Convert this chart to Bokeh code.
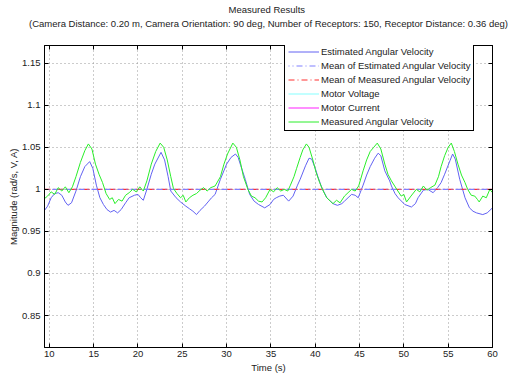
from bokeh.plotting import figure
from bokeh.models import Range1d, LinearAxis, Legend, LegendItem, FixedTicker, Title
from bokeh.embed import file_html
from bokeh.resources import INLINE

# Measured angular velocity (green)
meas_t = [9.45, 9.8, 10.2, 10.6, 11.0, 11.4, 11.8, 12.2, 12.6, 13.0, 13.5, 14.0, 14.4, 14.8, 15.2, 15.6,
          16.0, 16.4, 16.8, 17.1, 17.4, 17.8, 18.2, 18.6, 19.0, 19.4, 19.8, 20.2, 20.6, 21.0, 21.5, 22.0,
          22.5, 22.9, 23.3, 23.7, 24.0, 24.4, 24.8, 25.1, 25.4, 25.8, 26.2, 26.6, 27.0, 27.4, 27.8, 28.2,
          28.7, 29.3, 29.7, 30.1, 30.7, 31.1, 31.5, 31.9, 32.4, 32.8, 33.2, 33.6, 34.0, 34.4, 34.9, 35.3,
          35.7, 36.1, 36.5, 36.9, 37.2, 37.6, 37.9, 38.3, 38.6, 39.0, 39.3, 39.7, 40.1, 40.5, 40.9, 41.3,
          41.7, 42.0, 42.4, 42.8, 43.3, 43.7, 44.1, 44.5, 44.9, 45.4, 45.8, 46.2, 46.6, 47.0, 47.4, 47.85,
          48.2, 48.6, 49.2, 49.7, 50.0, 50.3, 50.8, 51.4, 51.8, 52.2, 52.6, 53.0, 53.5, 53.9, 54.2, 54.6,
          55.0, 55.35, 55.7, 56.1, 56.5, 56.9, 57.2, 57.6, 58.0, 58.3, 58.5, 58.9, 59.3, 59.7, 60.0]
meas_v = [0.989, 0.992, 0.997, 0.994, 1.002, 0.998, 1.003, 0.996, 1.003, 1.015, 1.032, 1.046, 1.054, 1.048, 1.030, 1.018,
          1.008, 0.995, 0.988, 0.990, 0.983, 0.988, 0.986, 0.993, 0.996, 1.000, 0.997, 1.003, 0.998, 1.010, 1.030, 1.045,
          1.055, 1.050, 1.035, 1.015, 1.001, 0.995, 0.990, 0.993, 0.985, 0.990, 0.993, 0.995, 0.999, 1.002, 0.998, 1.002,
          1.004, 1.015, 1.030, 1.042, 1.055, 1.050, 1.035, 1.015, 1.000, 0.992, 0.990, 0.986, 0.985, 0.990, 1.000, 0.997,
          1.002, 0.998, 1.000, 0.998, 1.005, 1.015, 1.025, 1.038, 1.047, 1.054, 1.050, 1.036, 1.020, 1.008, 0.998, 0.990,
          0.986, 0.983, 0.987, 0.984, 0.992, 0.996, 1.000, 0.998, 1.004, 1.022, 1.035, 1.045, 1.050, 1.055, 1.048, 1.030,
          1.018, 1.010, 1.000, 0.992, 0.994, 0.985, 0.992, 1.000, 0.997, 1.004, 0.999, 1.002, 1.005, 1.015, 1.027, 1.040,
          1.050, 1.055, 1.045, 1.030, 1.017, 1.008, 1.000, 0.993, 0.992, 0.988, 0.985, 0.992, 0.990, 1.000, 0.996]

# Estimated angular velocity (blue)
est_t = [9.45, 9.8, 10.2, 10.6, 11.0, 11.4, 11.8, 12.1, 12.5, 13.0, 13.5, 14.0, 14.55, 14.9, 15.3, 15.7,
         16.1, 16.5, 16.9, 17.3, 17.7, 18.1, 18.6, 19.0, 19.6, 20.0, 20.3, 20.6, 21.0, 21.5, 21.9, 22.6,
         23.0, 23.4, 23.7, 24.3, 24.8, 25.4, 25.8, 26.2, 26.6, 27.0, 27.5, 27.9, 28.3, 28.7, 29.3, 30.0,
         30.5, 31.0, 31.3, 31.6, 32.1, 32.6, 33.1, 33.6, 34.3, 34.9, 35.3, 35.6, 36.0, 36.4, 37.0, 37.5,
         38.0, 38.3, 38.9, 39.3, 39.6, 40.0, 40.3, 40.7, 41.3, 42.0, 42.5, 43.0, 43.3, 43.7, 44.1, 44.5,
         44.85, 45.4, 45.8, 46.2, 46.7, 47.1, 47.4, 47.85, 48.4, 48.6, 49.0, 49.35, 50.1, 50.85, 51.3, 51.6,
         52.2, 52.7, 53.3, 53.8, 54.2, 54.6, 55.2, 55.5, 55.8, 56.3, 56.9, 57.4, 57.8, 58.2, 58.9, 59.4, 60.0]
est_v = [0.975, 0.980, 0.990, 0.995, 0.996, 0.993, 0.985, 0.981, 0.984, 0.998, 1.015, 1.027, 1.033, 1.025, 1.005, 0.990,
         0.982, 0.976, 0.973, 0.975, 0.972, 0.976, 0.984, 0.990, 0.993, 0.994, 0.990, 0.987, 1.000, 1.018, 1.030, 1.044,
         1.035, 1.015, 0.998, 0.990, 0.985, 0.980, 0.977, 0.974, 0.970, 0.975, 0.980, 0.985, 0.990, 0.994, 1.012, 1.030,
         1.038, 1.042, 1.038, 1.028, 1.012, 0.994, 0.986, 0.982, 0.978, 0.982, 0.988, 0.990, 0.992, 0.993, 0.986, 0.992,
         1.005, 1.012, 1.028, 1.037, 1.036, 1.025, 1.015, 1.003, 0.990, 0.983, 0.981, 0.983, 0.986, 0.990, 0.994, 0.993,
         0.990, 1.005, 1.017, 1.027, 1.037, 1.043, 1.040, 1.022, 1.010, 1.004, 0.995, 0.990, 0.982, 0.979, 0.983, 0.990,
         0.999, 1.000, 0.996, 1.002, 1.008, 1.018, 1.034, 1.042, 1.036, 1.012, 0.990, 0.978, 0.974, 0.972, 0.970, 0.972, 0.978]

mean_t = [9.45, 60.0]
mean_est = [1.0, 1.0]
mean_meas = [1.0, 1.0]
# Motor voltage / current: no values inside the shown window (legend entries only)
motor_t = [float("nan")]
motor_voltage = [float("nan")]
motor_current = [float("nan")]

x_ticks = [10, 15, 20, 25, 30, 35, 40, 45, 50, 55, 60]
y_ticks = [0.85, 0.9, 0.95, 1.0, 1.05, 1.1, 1.15]
y_labels = {0.85: "0.85", 0.9: "0.9", 0.95: "0.95", 1.0: "1", 1.05: "1.05", 1.1: "1.1", 1.15: "1.15"}

title_main = "Measured Results"
title_sub = "(Camera Distance: 0.20 m, Camera Orientation: 90 deg, Number of Receptors: 150, Receptor Distance: 0.36 deg)"

FONT = "Liberation Sans"
FS = "9.5px"
TXT = "#222222"

p = figure(width=508, height=376, output_backend="svg", toolbar_location=None,
           x_range=Range1d(9.45, 60.0), y_range=Range1d(0.812, 1.171),
           min_border_left=44, min_border_right=16, min_border_top=45, min_border_bottom=29)
p.title = None

p.outline_line_color = "black"
p.outline_line_width = 1
p.outline_line_alpha = 1.0
p.background_fill_color = "white"
p.border_fill_color = "white"

for ax in p.xaxis:
    ax.ticker = FixedTicker(ticks=x_ticks)
    ax.axis_label = "Time (s)"
    ax.major_label_standoff = 3
    ax.axis_label_standoff = 2
for ax in p.yaxis:
    ax.ticker = FixedTicker(ticks=y_ticks)
    ax.major_label_overrides = y_labels
    ax.axis_label = "Magnitude (rad/s, V, A)"
    ax.major_label_standoff = 4
    ax.axis_label_standoff = 0

for ax in p.xaxis + p.yaxis:
    ax.major_tick_in = 4
    ax.major_tick_out = 0
    ax.minor_tick_in = 0
    ax.minor_tick_out = 0
    ax.axis_line_color = "black"
    ax.major_tick_line_color = "black"
    ax.major_label_text_font = FONT
    ax.major_label_text_font_size = FS
    ax.major_label_text_color = TXT
    ax.axis_label_text_font = FONT
    ax.axis_label_text_font_size = FS
    ax.axis_label_text_font_style = "normal"
    ax.axis_label_text_color = TXT

# top axis: inward ticks only; its label carries the second title line
top_ax = LinearAxis(ticker=FixedTicker(ticks=x_ticks), major_label_text_font_size="0px",
                    major_tick_in=4, major_tick_out=0, minor_tick_in=0, minor_tick_out=0,
                    major_label_standoff=0, major_tick_line_color="black",
                    axis_label=title_sub, axis_label_standoff=17,
                    axis_label_text_font=FONT, axis_label_text_font_size=FS,
                    axis_label_text_font_style="normal", axis_label_text_color=TXT)
right_ax = LinearAxis(ticker=FixedTicker(ticks=y_ticks), major_label_text_font_size="0px",
                      major_tick_in=4, major_tick_out=0, minor_tick_in=0, minor_tick_out=0,
                      major_label_standoff=0, major_tick_line_color="black")
p.add_layout(top_ax, "above")
p.add_layout(right_ax, "right")
p.add_layout(Title(text=title_main, align="left", offset=184, text_font=FONT, text_font_size=FS,
                   text_font_style="normal", text_color=TXT, standoff=0, text_line_height=0.9), "above")

p.xgrid[0].ticker = FixedTicker(ticks=x_ticks)
p.ygrid[0].ticker = FixedTicker(ticks=y_ticks)
for g in (p.xgrid[0], p.ygrid[0]):
    g.grid_line_color = "#999999"
    g.grid_line_dash = "1 3"
    g.grid_line_width = 1
    g.grid_line_alpha = 1.0

r_est = p.line(est_t, est_v, line_color="#6262f2", line_width=1)
r_mean_meas = p.line(mean_t, mean_meas, line_color="#ff3030", line_width=1.2, line_dash="6 3 1 3")
r_mean_est = p.line(mean_t, mean_est, line_color="#8080ff", line_width=1.2, line_dash="6 3 1 3",
                    line_dash_offset=5)
r_volt = p.line(motor_t, motor_voltage, line_color="#99ffff", line_width=1.2)
r_curr = p.line(motor_t, motor_current, line_color="#ff44ff", line_width=1.2)
r_meas = p.line(meas_t, meas_v, line_color="#2aee2a", line_width=1)

legend = Legend(items=[
    LegendItem(label="Estimated Angular Velocity", renderers=[r_est]),
    LegendItem(label="Mean of Estimated Angular Velocity", renderers=[r_mean_est]),
    LegendItem(label="Mean of Measured Angular Velocity", renderers=[r_mean_meas]),
    LegendItem(label="Motor Voltage", renderers=[r_volt]),
    LegendItem(label="Motor Current", renderers=[r_curr]),
    LegendItem(label="Measured Angular Velocity", renderers=[r_meas]),
], location=(240, 216))
legend.label_text_font = FONT
legend.label_text_font_size = FS
legend.label_text_color = TXT
legend.label_height = 11
legend.glyph_height = 11
legend.glyph_width = 31
legend.label_standoff = 2
legend.spacing = 3
legend.padding = 3
legend.margin = 0
legend.border_line_color = "black"
legend.border_line_width = 1
legend.border_line_alpha = 1.0
legend.background_fill_color = "white"
legend.background_fill_alpha = 1.0
p.add_layout(legend, "center")

html = file_html(p, INLINE)
open("out.html", "w").write(html)
